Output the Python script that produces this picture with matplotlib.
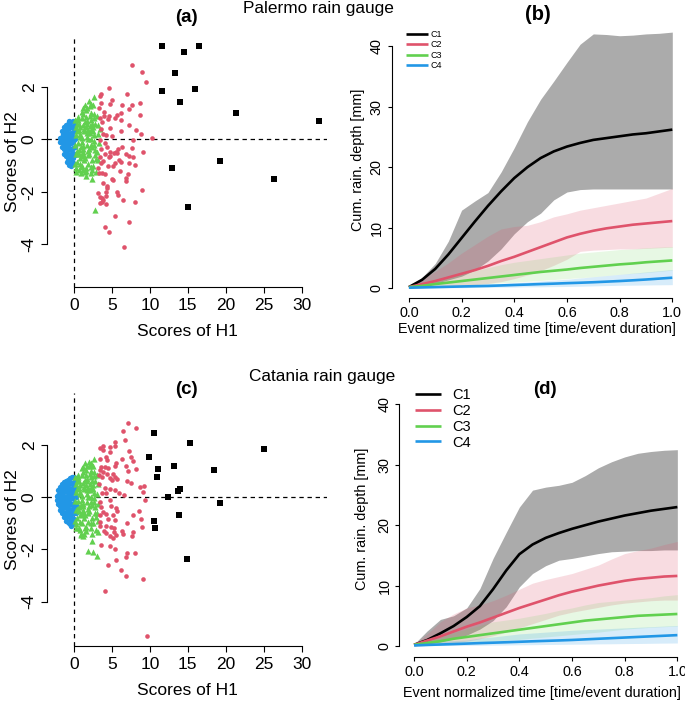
import matplotlib
matplotlib.use("Agg")
import matplotlib.pyplot as plt

plt.rcParams['font.family'] = ['Liberation Sans', 'DejaVu Sans']
plt.rcParams['axes.unicode_minus'] = False

# R 4.x default palette
K, RED, GRN, BLU = '#000000', '#DF536B', '#61D04F', '#2297E6'

# ---------------- Palermo scores (panel a) ----------------
pal_c1_x = [11.65, 14.56, 16.5, 13.28, 11.61, 15.92, 14.03, 21.38, 32.33, 19.22, 12.97, 26.39, 15.0]
pal_c1_y = [3.55, 3.34, 3.54, 2.51, 1.84, 1.93, 1.42, 0.99, 0.70, -0.81, -1.11, -1.50, -2.57]

pal_c2_x = [7.61, 8.97, 9.46, 4.62, 3.56, 3.43, 6.95, 5.02, 4.75, 3.56, 6.38, 7.61, 8.71, 7.22,
            6.25, 5.63, 4.62, 4.44, 5.41, 8.71, 3.43, 3.96, 3.65, 6.16, 4.75, 7.26, 8.14, 6.16,
            8.89, 10.34, 3.87, 4.22, 4.97, 3.43, 4.09, 7.83, 4.31, 3.56, 5.85, 6.34, 7.70, 9.06,
            4.75, 5.32, 5.54, 5.72, 6.82, 7.26, 7.74, 3.43, 4.09, 4.75, 4.62, 5.98, 6.16, 7.22,
            8.0, 3.78, 4.53, 5.41, 5.10, 3.12, 3.30, 4.14, 3.74, 7.13, 6.12, 5.19, 5.02, 6.82,
            6.86, 3.78, 4.31, 4.31, 8.93, 5.72, 5.76, 4.18, 4.22, 3.12, 3.39, 3.65, 3.87, 3.43,
            3.70, 4.22, 6.51, 8.10, 5.46, 7.26, 4.14, 4.58, 6.64, 3.3, 3.6, 3.5, 3.9]
pal_c2_y = [2.81, 2.57, 2.17, 1.96, 1.74, 1.63, 1.74, 1.50, 1.35, 1.37, 1.31, 1.30, 1.38, 1.16,
            1.00, 0.93, 0.89, 0.76, 0.80, 0.93, 0.80, 0.89, 0.65, 0.75, 0.44, 0.53, 0.37, 0.33,
            0.19, 0.05, 0.20, 0.17, 0.13, -0.03, -0.13, -0.04, -0.28, -0.37, -0.38, -0.28, -0.32, -0.47,
            -0.47, -0.52, -0.47, -0.51, -0.57, -0.63, -0.66, -0.66, -0.56, -0.63, -0.67, -0.79, -0.88, -0.89,
            -0.97, -0.84, -1.0, -0.91, -1.02, -1.10, -1.30, -1.31, -1.30, -1.31, -1.21, -1.55, -1.51, -1.49,
            -1.57, -1.65, -1.78, -1.87, -1.92, -1.99, -2.13, -2.02, -2.15, -2.03, -2.18, -2.22, -2.31, -2.44,
            -2.37, -2.46, -2.32, -2.40, -2.91, -3.15, -3.33, -3.52, -4.10, 1.2, 0.4, -0.9, 1.05]

pal_c3_x = [0.15, 0.2, 0.3, 0.1, 0.25, 0.35, 0.2, 0.3, 0.4, 0.15,
            0.55, 0.6, 0.7, 0.8, 0.5, 0.65, 0.75, 0.85, 0.6, 0.9, 0.55, 0.8, 0.7, 0.95,
            1.05, 1.1, 1.2, 1.3, 1.0, 1.15, 1.25, 1.35, 1.1, 1.4, 1.2, 1.3, 1.05, 1.35, 1.15, 1.25,
            1.5, 1.55, 1.6, 1.7, 1.8, 1.65, 1.75, 1.85, 1.5, 1.9, 1.6, 1.55, 1.7, 1.8, 1.9, 1.65,
            2.0, 2.1, 2.2, 2.3, 2.05, 2.15, 2.25, 2.35, 2.0, 2.4, 2.2, 2.3, 2.4, 2.1, 2.3, 2.25,
            2.6, 2.5, 2.7, 2.8, 2.55, 2.65, 2.75, 2.85, 2.5, 2.9, 2.6, 2.7, 2.8, 2.8,
            3.0, 3.1, 3.2, 3.3, 3.05, 3.15, 3.4,
            0.45, 0.9, 1.4, 1.95, 2.45, 0.35, 0.75, 1.25, 1.75, 2.2, 2.7, 1.0, 1.6, 2.35, 1.6, 2.4]
pal_c3_y = [0.72, 0.45, 0.15, -0.2, -0.55, -0.85, -1.1, -1.25, 0.6, -0.95,
            0.85, 0.6, 0.35, 0.1, -0.15, -0.4, -0.7, -0.95, -1.15, -1.3, 0.75, 0.2, -0.55, -1.05,
            1.05, 0.8, 0.55, 0.3, 0.05, -0.25, -0.5, -0.8, -1.0, -1.25, 0.95, 0.4, -0.1, -0.65, -1.15, 1.2,
            1.3, 1.1, 0.85, 0.6, 0.35, 0.1, -0.2, -0.45, -0.7, -0.95, -1.2, -1.4, 0.7, 0.0, -0.6, 1.2,
            1.45, 1.25, 1.0, 0.75, 0.5, 0.25, 0.0, -0.3, -0.55, -0.8, -1.05, -1.3, -1.5, 0.9, -0.2, 1.35,
            1.6, 1.3, 0.95, 0.6, 0.3, -0.05, -0.4, -0.75, -1.0, -1.25, 0.8, 0.15, -0.6, -2.7,
            0.9, 0.55, 0.2, -0.15, -0.5, -0.8, 0.4,
            0.3, -0.3, 0.65, -0.35, 0.45, -0.45, 0.45, -0.35, 0.25, 0.35, -0.2, -0.6, 0.45, 0.6, -1.1, -1.15]

pal_c4_x = [-1.85, -1.85, -1.6, -1.6, -1.6, -1.6,
            -1.35, -1.35, -1.35, -1.35, -1.35, -1.35,
            -1.1, -1.1, -1.1, -1.1, -1.1, -1.1, -1.1,
            -0.85, -0.85, -0.85, -0.85, -0.85, -0.85, -0.85, -0.85,
            -0.6, -0.6, -0.6, -0.6, -0.6, -0.6, -0.6, -0.6, -0.6,
            -0.35, -0.35, -0.35, -0.35, -0.35, -0.35, -0.35, -0.35, -0.35,
            -0.1, -0.1, -0.1, -0.1, -0.1, -0.1, -0.1, -0.1, -0.1,
            0.15, 0.15, 0.15, 0.15, 0.15, -1.5, -0.95, -0.7, -0.45]
pal_c4_y = [0.05, -0.1, 0.3, 0.1, -0.1, -0.3,
            0.45, 0.25, 0.05, -0.15, -0.35, -0.55,
            0.55, 0.35, 0.15, -0.05, -0.25, -0.45, -0.65,
            0.6, 0.4, 0.2, 0.0, -0.2, -0.4, -0.6, -0.8,
            0.62, 0.42, 0.22, 0.02, -0.18, -0.38, -0.58, -0.78, -0.98,
            0.65, 0.45, 0.25, 0.05, -0.15, -0.35, -0.55, -0.75, -0.92,
            0.68, 0.48, 0.28, 0.08, -0.12, -0.32, -0.52, -0.72, -0.9,
            0.6, 0.3, 0.0, -0.3, -0.6, 0.2, -0.85, 0.7, -1.0]

# ---------------- Catania scores (panel c) ----------------
cat_c1_x = [10.51, 15.35, 24.98, 9.9, 11.13, 13.24, 18.43, 11.0, 13.94, 13.64, 12.40, 19.27,
            13.77, 10.51, 10.69, 14.91]
cat_c1_y = [2.46, 2.08, 1.83, 1.52, 1.08, 1.19, 1.02, 0.75, 0.29, 0.22, -0.01, -0.23,
            -0.70, -0.90, -1.20, -2.36]

cat_c2_x = [7.17, 8.14, 6.47, 6.73, 5.37, 5.46, 3.43, 3.78, 3.87, 4.71, 4.80, 7.26, 7.52, 7.74,
            6.34, 3.43, 4.18, 4.31, 5.54, 5.46, 3.61, 4.09, 4.44, 6.91, 8.19, 7.08, 3.43, 3.87,
            4.40, 3.30, 3.74, 5.15, 5.41, 4.75, 5.06, 5.63, 7.0, 7.52, 8.67, 9.24, 4.14, 4.75,
            5.37, 5.90, 3.65, 4.18, 6.64, 9.06, 9.37, 3.43, 4.75, 4.88, 5.54, 5.72, 4.22, 3.87,
            5.15, 5.37, 7.79, 8.62, 4.44, 3.43, 8.84, 7.0, 3.39, 4.22, 4.88, 5.28, 9.02, 4.0,
            4.27, 5.32, 5.50, 4.75, 5.19, 6.34, 6.51, 7.79, 7.61, 3.52, 4.75, 5.41, 6.95, 6.86,
            8.0, 5.50, 4.49, 6.25, 6.91, 9.15, 4.09, 9.63, 3.3, 3.5, 3.4]
cat_c2_y = [2.85, 2.66, 2.51, 2.18, 2.09, 1.94, 1.86, 1.95, 1.80, 1.90, 1.73, 1.75, 1.52, 1.38,
            1.44, 1.46, 1.54, 1.41, 1.29, 1.18, 1.16, 1.13, 1.10, 1.18, 1.08, 1.0, 1.03, 0.96,
            0.90, 0.84, 0.78, 0.90, 0.78, 0.71, 0.65, 0.68, 0.61, 0.55, 0.38, 0.42, 0.34, 0.29,
            0.27, 0.17, 0.17, 0.14, 0.08, 0.18, -0.13, -0.18, -0.11, -0.33, -0.43, -0.54, -0.65, -0.56,
            -0.70, -0.88, -0.69, -0.52, -0.84, -0.94, -0.85, -0.99, -1.11, -1.11, -1.13, -1.20, -1.16, -1.29,
            -1.39, -1.32, -1.45, -1.49, -1.58, -1.29, -1.41, -1.34, -1.49, -1.83, -1.87, -2.0, -2.15, -2.28,
            -2.13, -2.42, -2.60, -2.80, -3.02, -3.15, -3.61, -5.32, 0.5, -0.4, -0.7]

cat_c3_x = [0.1, 0.2, 0.3, 0.15, 0.25, 0.35, 0.2, 0.3, 0.4, 0.1,
            0.55, 0.6, 0.7, 0.8, 0.5, 0.65, 0.75, 0.85, 0.6, 0.9, 0.55, 0.8, 0.7, 0.95,
            1.05, 1.1, 1.2, 1.3, 1.0, 1.15, 1.25, 1.35, 1.1, 1.4, 1.2, 1.3, 1.05, 1.35, 1.15, 1.25,
            1.5, 1.55, 1.6, 1.7, 1.8, 1.65, 1.75, 1.85, 1.5, 1.9, 1.6, 1.55, 1.7, 1.8, 1.9, 1.65,
            2.0, 2.1, 2.2, 2.3, 2.05, 2.15, 2.25, 2.35, 2.0, 2.4, 2.2, 2.3, 2.4, 2.1, 2.3, 2.25,
            2.6, 2.5, 2.7, 2.8, 2.55, 2.65, 2.75, 2.85, 2.5, 2.9, 2.6, 2.7, 2.8,
            3.0, 3.1, 3.0, 3.2, 3.05, 3.15, 1.8, 2.55, 3.0, 2.4, 3.2,
            0.45, 0.9, 1.4, 1.95, 2.45, 0.35, 0.75, 1.25, 1.75, 2.2, 2.7, 1.0, 1.6, 2.35, 0.8, 1.3]
cat_c3_y = [0.78, 0.5, 0.2, -0.15, -0.5, -0.8, -1.05, -1.2, 0.6, -0.9,
            0.85, 0.6, 0.35, 0.1, -0.15, -0.4, -0.7, -0.95, -1.2, -1.4, 0.75, 0.2, -0.55, -1.45,
            1.1, 0.85, 0.55, 0.3, 0.05, -0.25, -0.5, -0.8, -1.0, -1.2, 0.95, 0.4, -0.1, -0.65, -1.5, 1.15,
            1.3, 1.05, 0.85, 0.6, 0.35, 0.1, -0.2, -0.45, -0.7, -0.95, -1.15, -1.3, 0.7, 0.0, -0.6, 1.2,
            1.35, 1.2, 1.0, 0.75, 0.5, 0.25, 0.0, -0.3, -0.55, -0.8, -1.0, -1.2, -1.4, 0.9, -0.2, 1.3,
            1.45, 1.2, 0.95, 0.6, 0.3, -0.05, -0.4, -0.75, -1.0, -1.25, 0.8, 0.15, -0.6,
            0.85, 0.5, 0.1, -0.25, -0.6, -0.9, -2.05, -2.1, -2.25, -1.7, -1.35,
            0.3, -0.3, 0.65, -0.35, 0.45, -0.45, 0.45, -0.35, 0.25, 0.35, -0.2, -0.6, 0.45, 0.6, -1.25, -1.4]

cat_c4_x = [-2.3, -2.3, -2.05, -2.05, -2.05, -2.05,
            -1.8, -1.8, -1.8, -1.8, -1.8, -1.8,
            -1.55, -1.55, -1.55, -1.55, -1.55, -1.55, -1.55,
            -1.3, -1.3, -1.3, -1.3, -1.3, -1.3, -1.3, -1.3,
            -1.05, -1.05, -1.05, -1.05, -1.05, -1.05, -1.05, -1.05, -1.05,
            -0.8, -0.8, -0.8, -0.8, -0.8, -0.8, -0.8, -0.8, -0.8,
            -0.55, -0.55, -0.55, -0.55, -0.55, -0.55, -0.55, -0.55, -0.55, -0.55,
            -0.3, -0.3, -0.3, -0.3, -0.3, -0.3, -0.3, -0.3, -0.3, -0.3,
            -0.05, -0.05, -0.05, -0.05, -0.05, -0.05, -0.05, -0.05, -0.05,
            0.2, 0.2, 0.2, 0.2, 0.2, -0.45, -0.7]
cat_c4_y = [0.05, -0.1, 0.25, 0.08, -0.1, -0.28,
            0.4, 0.22, 0.05, -0.15, -0.35, -0.5,
            0.5, 0.32, 0.15, -0.05, -0.25, -0.45, -0.62,
            0.58, 0.4, 0.2, 0.0, -0.2, -0.4, -0.6, -0.78,
            0.62, 0.42, 0.22, 0.02, -0.18, -0.38, -0.58, -0.78, -0.92,
            0.66, 0.46, 0.26, 0.06, -0.14, -0.34, -0.54, -0.74, -0.95,
            0.72, 0.52, 0.32, 0.12, -0.08, -0.28, -0.48, -0.68, -0.88, -1.05,
            0.75, 0.55, 0.35, 0.15, -0.05, -0.25, -0.45, -0.65, -0.85, -1.05,
            0.78, 0.58, 0.38, 0.18, -0.02, -0.22, -0.42, -0.62, -0.85,
            0.6, 0.3, 0.0, -0.3, -0.6, -1.12, -1.0]

# ---------------- cumulative rainfall curves ----------------
t = [0.0, 0.05, 0.1, 0.15, 0.2, 0.25, 0.3, 0.35, 0.4, 0.45, 0.5,
     0.55, 0.6, 0.65, 0.7, 0.75, 0.8, 0.85, 0.9, 0.95, 1.0]

# Palermo (panel b)
pal_m = {
    'C1': [0.2, 1.4, 3.2, 5.6, 8.3, 11.0, 13.6, 16.0, 18.2, 20.0, 21.5, 22.6, 23.4, 24.0, 24.5, 24.8, 25.1, 25.4, 25.6, 25.9, 26.2],
    'C2': [0.2, 0.7, 1.2, 1.8, 2.4, 3.0, 3.7, 4.5, 5.2, 6.0, 6.8, 7.6, 8.4, 9.0, 9.5, 9.9, 10.2, 10.5, 10.7, 10.9, 11.1],
    'C3': [0.2, 0.4, 0.7, 0.95, 1.2, 1.45, 1.7, 1.95, 2.2, 2.45, 2.7, 2.9, 3.1, 3.35, 3.55, 3.75, 3.95, 4.1, 4.3, 4.45, 4.6],
    'C4': [0.1, 0.15, 0.2, 0.25, 0.3, 0.35, 0.4, 0.47, 0.55, 0.62, 0.7, 0.77, 0.85, 0.92, 1.0, 1.1, 1.2, 1.32, 1.45, 1.6, 1.75],
}
pal_hi = {
    'C1': [0.3, 1.8, 4.1, 7.8, 12.9, 14.4, 15.8, 19.2, 23.2, 27.5, 31.2, 34.2, 37.3, 40.3, 42.0, 41.9, 41.7, 41.8, 42.0, 42.1, 42.3],
    'C2': [0.3, 1.5, 2.8, 4.2, 5.8, 7.2, 8.6, 9.8, 10.2, 10.4, 11.0, 11.8, 12.3, 12.9, 13.3, 13.7, 14.1, 14.5, 14.9, 15.7, 16.5],
    'C3': [0.3, 0.8, 1.3, 1.8, 2.3, 2.9, 3.4, 3.9, 4.3, 4.6, 4.9, 5.2, 5.5, 5.8, 6.0, 6.2, 6.4, 6.5, 6.7, 6.8, 6.9],
    'C4': [0.15, 0.25, 0.35, 0.42, 0.5, 0.6, 0.7, 0.8, 0.9, 1.05, 1.2, 1.35, 1.5, 1.7, 1.9, 2.1, 2.3, 2.5, 2.7, 2.9, 3.1],
}
pal_lo = {
    'C1': [0.0, 0.3, 0.8, 1.4, 2.0, 3.0, 4.5, 6.5, 9.0, 11.0, 12.4, 14.6, 15.9, 16.3, 16.4, 16.4, 16.4, 16.4, 16.4, 16.4, 16.4],
    'C2': [0.0, 0.1, 0.2, 0.3, 0.4, 0.6, 0.8, 1.1, 1.6, 2.2, 2.9, 3.8, 4.8, 6.1, 6.3, 6.4, 6.5, 6.5, 6.6, 6.7, 6.8],
    'C3': [0.0, 0.1, 0.25, 0.4, 0.5, 0.6, 0.75, 0.9, 1.0, 1.15, 1.3, 1.45, 1.6, 1.75, 1.9, 2.1, 2.3, 2.45, 2.6, 2.8, 3.0],
    'C4': [0.0, 0.05, 0.08, 0.1, 0.1, 0.15, 0.15, 0.2, 0.2, 0.25, 0.25, 0.28, 0.3, 0.35, 0.4, 0.45, 0.5, 0.52, 0.55, 0.58, 0.6],
}

# Catania (panel d)
cat_m = {
    'C1': [0.2, 1.0, 2.1, 3.3, 4.8, 6.6, 9.4, 12.5, 15.2, 16.8, 17.9, 18.7, 19.4, 20.0, 20.6, 21.1, 21.6, 22.0, 22.4, 22.7, 23.0],
    'C2': [0.2, 0.9, 1.6, 2.4, 3.2, 3.9, 4.7, 5.5, 6.3, 7.0, 7.7, 8.4, 9.0, 9.5, 10.0, 10.4, 10.8, 11.1, 11.3, 11.5, 11.6],
    'C3': [0.2, 0.5, 0.8, 1.2, 1.5, 1.8, 2.1, 2.4, 2.7, 3.0, 3.3, 3.6, 3.9, 4.2, 4.4, 4.6, 4.8, 5.0, 5.1, 5.2, 5.3],
    'C4': [0.1, 0.18, 0.25, 0.32, 0.4, 0.48, 0.55, 0.62, 0.7, 0.78, 0.85, 0.92, 1.0, 1.1, 1.2, 1.3, 1.4, 1.5, 1.6, 1.7, 1.8],
}
cat_hi = {
    'C1': [0.3, 2.5, 4.4, 5.0, 6.3, 9.5, 14.5, 18.8, 23.0, 25.8, 26.3, 26.6, 27.1, 28.2, 29.5, 30.5, 31.3, 31.9, 32.2, 32.4, 32.5],
    'C2': [0.3, 2.0, 4.0, 5.3, 6.3, 6.8, 7.5, 8.4, 9.4, 10.4, 11.0, 11.5, 12.0, 12.7, 13.4, 14.4, 15.3, 15.8, 16.2, 16.8, 17.3],
    'C3': [0.3, 0.9, 1.5, 2.2, 2.8, 3.4, 4.0, 4.3, 4.6, 5.0, 5.4, 5.9, 6.3, 6.8, 7.2, 7.4, 7.6, 7.8, 8.0, 8.3, 8.5],
    'C4': [0.15, 0.6, 0.8, 0.9, 1.0, 1.3, 1.5, 1.75, 2.0, 2.15, 2.3, 2.45, 2.6, 2.7, 2.8, 2.9, 3.0, 3.1, 3.2, 3.3, 3.4],
}
cat_lo = {
    'C1': [0.0, 0.3, 0.7, 1.2, 1.8, 2.8, 4.2, 6.5, 9.8, 12.0, 13.3, 14.2, 14.5, 14.9, 15.3, 15.6, 15.7, 15.8, 15.8, 15.9, 15.9],
    'C2': [0.0, 0.1, 0.3, 0.5, 0.8, 1.2, 1.7, 2.3, 3.0, 3.7, 4.4, 5.1, 5.6, 6.0, 6.4, 6.8, 7.1, 7.3, 7.5, 7.6, 7.6],
    'C3': [0.0, 0.1, 0.2, 0.35, 0.5, 0.65, 0.8, 0.95, 1.1, 1.3, 1.5, 1.7, 1.9, 2.1, 2.3, 2.55, 2.8, 2.95, 3.1, 3.2, 3.3],
    'C4': [0.0, 0.05, 0.08, 0.1, 0.1, 0.12, 0.15, 0.17, 0.2, 0.22, 0.25, 0.27, 0.3, 0.32, 0.35, 0.37, 0.4, 0.42, 0.45, 0.48, 0.5],
}

groups = ['C1', 'C2', 'C3', 'C4']
line_col = {'C1': K, 'C2': RED, 'C3': GRN, 'C4': BLU}
band_alpha = {'C1': 0.33, 'C2': 0.2, 'C3': 0.15, 'C4': 0.18}

W, H = 685, 702
fig = plt.figure(figsize=(W / 100, H / 100), dpi=100)


def px_axes(left, top, right, bottom):
    return fig.add_axes([left / W, 1 - bottom / H, (right - left) / W, (bottom - top) / H])


def r_style(ax, xb, yb, size, ticklen, pad):
    for s in ['top', 'right']:
        ax.spines[s].set_visible(False)
    ax.spines['left'].set_bounds(*yb)
    ax.spines['bottom'].set_bounds(*xb)
    for s in ['left', 'bottom']:
        ax.spines[s].set_linewidth(0.8)
    ax.tick_params(direction='out', length=ticklen, width=0.8, labelsize=size, pad=pad)
    for lab in ax.get_yticklabels():
        lab.set_rotation(90)
        lab.set_va('center')


def score_panel(ax, c1x, c1y, c2x, c2y, c3x, c3y, c4x, c4y, ylim):
    ax.axhline(0, color='k', ls=(0, (3.5, 3)), lw=0.9, zorder=1)
    ax.axvline(0, color='k', ls=(0, (3.5, 3)), lw=0.9, zorder=1)
    ax.scatter(c4x, c4y, s=15, marker='o', color=BLU, linewidths=0, zorder=2)
    ax.scatter(c3x, c3y, s=20, marker='^', color=GRN, linewidths=0, zorder=3)
    ax.scatter(c2x, c2y, s=11, marker='o', color=RED, linewidths=0, zorder=4)
    ax.scatter(c1x, c1y, s=14, marker='s', color=K, linewidths=0, zorder=5)
    ax.set_xlim(-3.52, 33.3)
    ax.set_ylim(*ylim)
    ax.set_xticks([0, 5, 10, 15, 20, 25, 30])
    ax.set_yticks([-4, -2, 0, 2])
    r_style(ax, (0, 30), (-4, 2), 12.5, 4.1, 3.5)
    ax.set_xlabel('Scores of H1', fontsize=12.5)
    ax.set_ylabel('Scores of H2', fontsize=12.5)
    ax.xaxis.set_label_coords(0.5, -0.145)
    ax.yaxis.set_label_coords(-0.097, 0.5)


def curve_panel(ax, mean, hi, lo, ylim, xlim, leg_size, leg_len, leg_pad, leg_anchor, leg_sp):
    for g in groups:
        ax.fill_between(t, lo[g], hi[g], color=line_col[g], alpha=band_alpha[g], linewidth=0)
    for g in groups:
        ax.plot(t, mean[g], color=line_col[g], lw=1.9, label=g, solid_capstyle='butt')
    ax.set_xlim(*xlim)
    ax.set_ylim(*ylim)
    ax.set_xticks([0.0, 0.2, 0.4, 0.6, 0.8, 1.0])
    ax.set_xticklabels(['0.0', '0.2', '0.4', '0.6', '0.8', '1.0'])
    ax.set_yticks([0, 10, 20, 30, 40])
    r_style(ax, (0, 1), (0, 40), 10.4, 3.2, 2.5)
    ax.set_xlabel('Event normalized time [time/event duration]', fontsize=10.4)
    ax.set_ylabel('Cum. rain. depth [mm]', fontsize=10.4)
    ax.legend(loc='upper left', bbox_to_anchor=leg_anchor, frameon=False, fontsize=leg_size,
              handlelength=leg_len, handletextpad=leg_pad, labelspacing=leg_sp,
              borderaxespad=0, borderpad=0)


# panel (a)
ax_a = px_axes(47.3, 36, 326.7, 287.3)
score_panel(ax_a, pal_c1_x, pal_c1_y, pal_c2_x, pal_c2_y, pal_c3_x, pal_c3_y,
            pal_c4_x, pal_c4_y, (-5.63, 3.93))

# panel (c)
ax_c = px_axes(47.3, 393, 326.7, 646)
score_panel(ax_c, cat_c1_x, cat_c1_y, cat_c2_x, cat_c2_y, cat_c3_x, cat_c3_y,
            cat_c4_x, cat_c4_y, (-5.70, 3.98))

# panel (b)
ax_b = px_axes(391.5, 21.8, 683.1, 298.3)
curve_panel(ax_b, pal_m, pal_hi, pal_lo, (-1.65, 44.0), (-0.066, 1.041),
            6.5, 2.4, 0.3, (0.05, 0.97), 0.15)
ax_b.xaxis.set_label_coords(0.5, -0.085)
ax_b.yaxis.set_label_coords(-0.092, 0.5)

# panel (d)
ax_d = px_axes(399.3, 381.4, 685, 656.7)
curve_panel(ax_d, cat_m, cat_hi, cat_lo, (-1.77, 43.8), (-0.056, 1.029),
            10.5, 1.75, 0.8, (0.055, 0.975), 0.12)
ax_d.xaxis.set_label_coords(0.5, -0.105)
ax_d.yaxis.set_label_coords(-0.105, 0.5)

# titles
fig.text(318 / W, 1 - 9 / H, 'Palermo rain gauge', ha='center', va='center', fontsize=12.4)
fig.text(322 / W, 1 - 376 / H, 'Catania rain gauge', ha='center', va='center', fontsize=12.4)
fig.text(186 / W, 1 - 17 / H, '(a)', ha='center', va='center', fontsize=13.5, fontweight='bold')
fig.text(538 / W, 1 - 15 / H, '(b)', ha='center', va='center', fontsize=14.5, fontweight='bold')
fig.text(186 / W, 1 - 390 / H, '(c)', ha='center', va='center', fontsize=13.5, fontweight='bold')
fig.text(545 / W, 1 - 389 / H, '(d)', ha='center', va='center', fontsize=13.5, fontweight='bold')

fig.savefig('out.png', dpi=100)
